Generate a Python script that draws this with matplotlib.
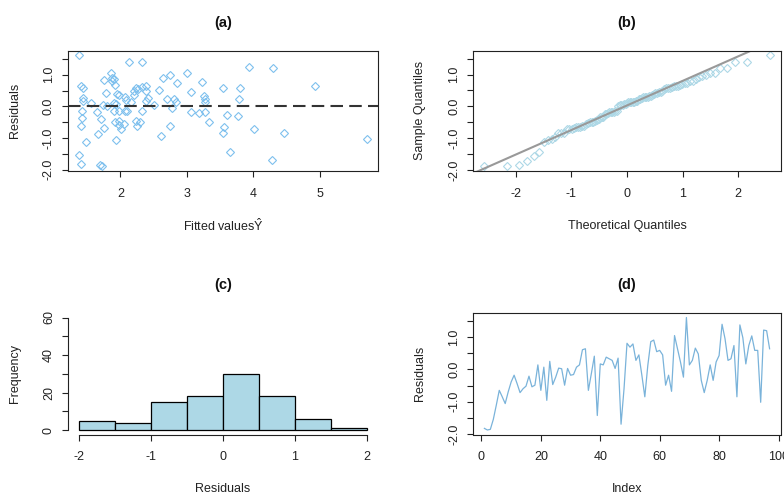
import numpy as np
import matplotlib
matplotlib.use('Agg')
import matplotlib.pyplot as plt
from statistics import NormalDist

plt.rcParams['font.family'] = ['Liberation Sans', 'DejaVu Sans']
plt.rcParams['mathtext.fontset'] = 'custom'
plt.rcParams['mathtext.rm'] = 'Liberation Sans'
plt.rcParams['font.size'] = 9
plt.rcParams['axes.unicode_minus'] = False

# residuals in index order (panels b, c, d)
resid = [-1.83, -1.88, -1.86, -1.55, -1.11, -0.65, -0.85, -1.06, -0.70, -0.39,
         -0.18, -0.44, -0.72, -0.60, -0.52, -0.21, -0.54, -0.49, 0.14, -0.65,
         0.07, -0.96, 0.25, -0.47, -0.24, 0.04, 0.02, -0.49, 0.03, -0.18,
         -0.16, 0.07, 0.14, 0.61, 0.64, -0.65, -0.13, 0.41, -1.43, 0.17,
         0.14, 0.38, 0.33, 0.28, 0.03, 0.35, -1.70, -0.60, 0.81, 0.69,
         0.79, 0.28, 0.45, -0.18, -0.85, 0.12, 0.86, 0.91, 0.55, 0.59,
         0.45, -0.49, -0.18, -0.68, 1.05, 0.64, 0.23, -0.24, 1.61, 0.14,
         0.28, 0.66, 0.48, -0.34, -0.72, -0.34, 0.14, -0.34, 0.23, 0.43,
         1.40, 0.95, 0.28, 0.33, 0.74, -0.85, 1.38, 0.98, 0.17, 0.74,
         1.04, 0.59, 0.59, -1.02, 1.22, 1.20, 0.64]

# fitted values vs residuals (panel a)
fitted = [1.385, 1.41, 1.445, 1.44, 1.44, 1.425, 1.425, 1.41, 1.385, 1.41,
          1.49, 1.555, 1.65, 1.66, 1.71, 1.70, 1.72, 1.74, 1.76, 1.76,
          1.79, 1.80, 1.865, 1.88, 1.87, 1.91, 1.92, 1.90, 1.90, 1.92,
          1.93, 1.95, 1.975, 1.935, 1.975, 1.98, 1.975, 2.01, 2.05, 2.07,
          2.08, 2.075, 2.10, 2.13, 2.165, 2.20, 2.21, 2.23, 2.26, 2.23,
          2.255, 2.30, 2.33, 2.33, 2.32, 2.39, 2.39, 2.42, 2.39, 2.51,
          2.585, 2.615, 2.645, 2.705, 2.745, 2.745, 2.78, 2.81, 2.84, 2.85,
          3.01, 3.06, 3.07, 3.19, 3.23, 3.26, 3.27, 3.27, 3.28, 3.33,
          3.55, 3.56, 3.55, 3.61, 3.65, 3.765, 3.78, 3.795, 3.93, 4.01,
          4.30, 4.285, 4.46, 4.925, 5.705]
resid_a = [1.62, 0.66, 0.59, 0.28, 0.18, -0.13, -0.36, -0.63, -1.53, -1.82,
           -1.11, 0.10, -0.19, -0.88, -0.41, -1.86, -1.89, 0.05, 0.82, -0.68,
           0.42, 0.02, 1.05, 0.90, 0.79, 0.88, 0.69, 0.12, -0.13, -0.49,
           -1.06, 0.38, 0.35, 0.09, -0.13, -0.46, -0.60, -0.70, -0.55, 0.31,
           0.21, -0.15, -0.16, 1.41, 0.15, 0.36, 0.48, 0.59, 0.56, -0.46,
           -0.63, -0.49, -0.13, 1.39, 0.61, 0.66, 0.48, 0.28, 0.18, 0.04,
           0.51, -0.93, 0.90, 0.22, 0.98, -0.63, -0.06, 0.24, 0.14, 0.75,
           1.05, -0.19, 0.45, -0.22, 0.77, 0.33, 0.25, 0.15, -0.19, -0.48,
           0.59, -0.65, -0.84, -0.27, -1.43, -0.31, 0.22, 0.59, 1.23, -0.71,
           1.21, -1.70, -0.84, 0.66, -1.02]

hist_breaks = [-2.0, -1.5, -1.0, -0.5, 0.0, 0.5, 1.0, 1.5, 2.0]


def rlim(v):
    lo, hi = min(v), max(v)
    d = 0.04 * (hi - lo)
    return lo - d, hi + d


def px(p):
    return p * 0.72


def r_style(ax, title, xlab, ylab, box=True):
    for s in ax.spines.values():
        s.set_linewidth(0.8)
        s.set_color('#222222')
        s.set_visible(box)
    ax.tick_params(direction='out', length=px(6), width=0.8, color='#222222',
                   labelsize=9, labelcolor='#222222')
    ax.tick_params(axis='y', labelrotation=90, pad=px(7))
    ax.tick_params(axis='x', pad=px(11))
    for lab in ax.get_yticklabels():
        lab.set_va('center')
    ax.annotate(title, xy=(0.5, 1), xycoords='axes fraction', xytext=(0, px(28)),
                textcoords='offset points', ha='center', va='center',
                fontsize=10.5, fontweight='bold', color='#111111')
    ax.annotate(xlab, xy=(0.5, 0), xycoords='axes fraction', xytext=(0, -px(55)),
                textcoords='offset points', ha='center', va='center', fontsize=9,
                color='#222222')
    ax.annotate(ylab, xy=(0, 0.5), xycoords='axes fraction', xytext=(-px(53), 0),
                textcoords='offset points', ha='center', va='center',
                rotation=90, fontsize=9, color='#222222')


def resid_yaxis(ax):
    ax.set_yticks(np.arange(-2.0, 1.51, 0.5))
    ax.set_yticklabels(['-2.0', '', '-1.0', '', '0.0', '', '1.0', ''])


fig = plt.figure(figsize=(7.84, 4.96), dpi=100)
W, H = 784, 496
left_x, right_x = 68 / W, 473 / W
col_w_l, col_w_r = 310 / W, 308 / W
top_y, top_h = 1 - 170.7 / H, 120 / H
bot_y, bot_h = 1 - 434.5 / H, 121.5 / H

# (a)
ax = fig.add_axes([left_x, top_y, col_w_l, top_h])
ax.plot(fitted, resid_a, 'D', ms=4.5, mfc='none', mec='#7EC0EE', mew=0.8)
ax.axhline(0, color='#333333', lw=1.5, dashes=(6, 3))
ax.set_xlim(rlim(fitted))
ax.set_ylim(rlim(resid_a))
ax.set_xticks([2, 3, 4, 5])
resid_yaxis(ax)
r_style(ax, '(a)', r'Fitted values$\hat{\mathrm{Y}}$', 'Residuals')

# (b)
n = len(resid)
sample_q = np.sort(resid)
theo_q = np.array([NormalDist().inv_cdf((i + 0.5) / n) for i in range(n)])
ax = fig.add_axes([right_x, top_y, col_w_r, top_h])
ax.plot(theo_q, sample_q, 'D', ms=3.6, mfc='none', mec='#ADD8E6', mew=0.8)
y1, y3 = np.percentile(resid, [25, 75])
x1, x3 = NormalDist().inv_cdf(0.25), NormalDist().inv_cdf(0.75)
slope = (y3 - y1) / (x3 - x1)
icpt = y1 - slope * x1
xx = np.array([-4, 4])
ax.plot(xx, icpt + slope * xx, color='#999999', lw=1.5)
ax.set_xlim(rlim(theo_q))
ax.set_ylim(rlim(sample_q))
ax.set_xticks([-2, -1, 0, 1, 2])
resid_yaxis(ax)
r_style(ax, '(b)', 'Theoretical Quantiles', 'Sample Quantiles')

# (c)
ax = fig.add_axes([left_x, bot_y, col_w_l, bot_h])
ax.hist(resid, bins=hist_breaks, color='#ADD8E6', edgecolor='black', linewidth=0.9)
ax.set_xlim(-2.16, 2.16)
ax.set_ylim(-2.4, 62.4)
ax.set_xticks([-2, -1, 0, 1, 2])
ax.set_yticks([0, 10, 20, 30, 40, 50, 60])
ax.set_yticklabels(['0', '', '20', '', '40', '', '60'])
r_style(ax, '(c)', 'Residuals', 'Frequency', box=False)
ax.spines['left'].set_visible(True)
ax.spines['bottom'].set_visible(True)
ax.spines['left'].set_bounds(0, 60)
ax.spines['bottom'].set_bounds(-2, 2)

# (d)
idx = np.arange(1, n + 1)
ax = fig.add_axes([right_x, bot_y, col_w_r, bot_h])
ax.plot(idx, resid, color='#7AB3DA', lw=0.9)
ax.set_xlim(rlim(idx))
ax.set_ylim(rlim(resid))
ax.set_xticks([0, 20, 40, 60, 80, 100])
resid_yaxis(ax)
r_style(ax, '(d)', 'Index', 'Residuals')

fig.savefig('out.png', dpi=100)
